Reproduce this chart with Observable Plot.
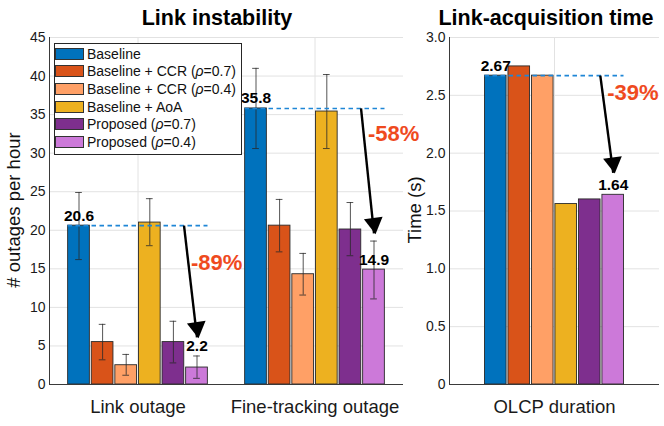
<!DOCTYPE html>
<html>
<head>
<meta charset="utf-8">
<script src="https://cdn.jsdelivr.net/npm/d3@7"></script>
<script src="https://cdn.jsdelivr.net/npm/@observablehq/plot@0.6"></script>
<style>
  body { margin: 0; background: #fff; }
  #wrap { position: relative; width: 664px; height: 426px; background: #fff; font-family: "Liberation Sans", Arial, Helvetica, sans-serif; color: #111; overflow: hidden; }
  .abs { position: absolute; }
  .title { position: absolute; transform: translateX(-50%); white-space: nowrap; font-weight: bold; font-size: 21.5px; line-height: 21.5px; color: #000; }
  .ylab { position: absolute; transform: translate(-50%, -50%) rotate(-90deg); white-space: nowrap; font-size: 18.5px; line-height: 1; color: #111; }
  #legend { position: absolute; left: 54px; top: 43px; width: 188px; height: 112px; border: 1px solid #262626; box-sizing: border-box; background: #fff; padding-top: 1px; }
  .row { display: flex; align-items: center; height: 17.6px; font-size: 14px; color: #111; white-space: nowrap; }
  .sw { width: 29px; height: 12px; border: 1px solid #333; box-sizing: border-box; margin-left: 0px; margin-right: 3px; }
</style>
</head>
<body>
<div id="wrap">
  <div id="left" class="abs" style="left:0;top:0"></div>
  <div id="right" class="abs" style="left:404px;top:0"></div>
  <div class="title" style="left:217px;top:8px">Link instability</div>
  <div class="title" style="left:546px;top:8px">Link-acquisition time</div>
  <div class="ylab" style="left:14px;top:210px"># outages per hour</div>
  <div class="ylab" style="left:415px;top:210px">Time (s)</div>
  <div id="legend"></div>
</div>
<script>
// ---- data ----
const series = ["Baseline", "Baseline + CCR (ρ=0.7)", "Baseline + CCR (ρ=0.4)", "Baseline + AoA", "Proposed (ρ=0.7)", "Proposed (ρ=0.4)"];
const colors = ["#0072BD", "#D95319", "#FFA066", "#EDB120", "#7E2F8E", "#CC79D9"];

const instabilityGroups = ["Link outage", "Fine-tracking outage"];
const linkOutage   = [20.6, 5.5, 2.5, 21.0, 5.5, 2.2];
const linkOutageLo = [16.2, 3.2, 1.2, 18.0, 2.8, 0.8];
const linkOutageHi = [24.9, 7.8, 3.9, 24.1, 8.2, 3.7];
const fineTracking   = [35.8, 20.6, 14.3, 35.4, 20.1, 14.9];
const fineTrackingLo = [30.6, 17.2, 11.6, 30.6, 16.7, 11.1];
const fineTrackingHi = [41.0, 24.0, 17.0, 40.2, 23.6, 18.6];
const instabilityTicks = [0, 5, 10, 15, 20, 25, 30, 35, 40, 45];

const acquisitionGroups = ["OLCP duration"];
const olcpDuration = [2.67, 2.75, 2.67, 1.56, 1.60, 1.64];
const acquisitionTicks = [0, 0.5, 1.0, 1.5, 2.0, 2.5, 3.0];

// annotations
const baselineRefLeft = [
  {group: "Link outage", y: 20.6},
  {group: "Fine-tracking outage", y: 35.8}
];
const baselineRefRight = [{group: "OLCP duration", y: 2.67}];
const valueLabelsLeft = [
  {group: "Link outage", series: series[0], y: 20.6, text: "20.6"},
  {group: "Link outage", series: series[5], y: 3.7, text: "2.2"},
  {group: "Fine-tracking outage", series: series[0], y: 35.8, text: "35.8"},
  {group: "Fine-tracking outage", series: series[5], y: 14.9, text: "14.9"}
];
const valueLabelsRight = [
  {group: "OLCP duration", series: series[0], y: 2.67, text: "2.67"},
  {group: "OLCP duration", series: series[5], y: 1.64, text: "1.64"}
];
const arrowsLeft = [
  {group: "Link outage", from: series[4], to: series[5], y1: 20.6, y2: 6.1},
  {group: "Fine-tracking outage", from: series[4], to: series[5], y1: 35.8, y2: 19.6}
];
const arrowsRight = [{group: "OLCP duration", from: series[4], to: series[5], y1: 2.67, y2: 1.83}];
const percentLeft = [
  {group: "Link outage", series: series[5], y: 15.8, text: "-89%"},
  {group: "Fine-tracking outage", series: series[5], y: 32.5, text: "-58%"}
];
const percentRight = [{group: "OLCP duration", series: series[5], y: 2.52, text: "-39%"}];

// ---- tables ----
const leftBars = instabilityGroups.flatMap((g, gi) => series.map((s, i) => ({
  group: g, series: s,
  value: [linkOutage, fineTracking][gi][i],
  lo: [linkOutageLo, fineTrackingLo][gi][i],
  hi: [linkOutageHi, fineTrackingHi][gi][i]
})));
const rightBars = series.map((s, i) => ({group: acquisitionGroups[0], series: s, value: olcpDuration[i]}));

const FONT = '"Liberation Sans", Arial, Helvetica, sans-serif';
const gridColor = "#e2e2e2";
const axisColor = "#3a3a3a";

// start the arrow shaft part-way between the two bar centres
function shiftStart(index, scales, values, dimensions, context, next) {
  const x1 = values.x1, x2 = values.x2;
  if (x1 && x2) {
    values = {...values, x1: Float64Array.from(x1, (v, i) => v + 0.45 * (x2[i] - v))};
  }
  return next(index, scales, values, dimensions, context);
}

function panel({groups, bars, yDomain, ticks, tickFormat, width, marginLeft, marginRight, paddingOuter, refs, refInset, labels, arrows, percents, errors}) {
  const marks = [
    Plot.gridY(ticks, {stroke: gridColor, strokeOpacity: 1, strokeWidth: 1}),
    Plot.gridFx({stroke: gridColor, strokeOpacity: 1, strokeWidth: 1}),
    Plot.axisY(ticks, {tickSize: 0, tickPadding: 4, fontSize: 14, tickFormat, label: null}),
    Plot.axisFx({anchor: "bottom", tickSize: 0, tickPadding: 15, fontSize: 18.5, label: null}),
    Plot.barY(bars, {fx: "group", x: "series", y: "value", fill: "series", stroke: "#2a2a2a", strokeWidth: 0.9})
  ];
  if (errors) {
    marks.push(
      Plot.ruleX(bars, {fx: "group", x: "series", y1: "lo", y2: "hi", stroke: "#2a2a2a", strokeWidth: 0.8}),
      Plot.tickY(bars, {fx: "group", x: "series", y: "lo", stroke: "#2a2a2a", strokeWidth: 0.8, insetLeft: 7.5, insetRight: 7.5}),
      Plot.tickY(bars, {fx: "group", x: "series", y: "hi", stroke: "#2a2a2a", strokeWidth: 0.8, insetLeft: 7.5, insetRight: 7.5})
    );
  }
  marks.push(
    Plot.ruleY([0], {stroke: axisColor, strokeWidth: 1}),
    Plot.frame({anchor: "left", facetAnchor: "left", stroke: axisColor, strokeWidth: 1}),
    Plot.tickY(refs, {fx: "group", y: "y", stroke: "#1f86d6", strokeWidth: 1.6, strokeDasharray: "4.5,3.5", insetLeft: refInset, insetRight: refInset}),
    Plot.link(arrows, {fx: "group", x1: "from", x2: "to", y1: "y1", y2: "y2", stroke: "#000", strokeWidth: 2.4, render: shiftStart}),
    Plot.dot(arrows, {fx: "group", x: "to", y: "y2", symbol: "triangle", r: 7, rotate: 172, dy: -10, fill: "#000", stroke: "none"}),
    Plot.text(labels, {fx: "group", x: "series", y: "y", text: "text", dy: -10, fontSize: 15.5, fontWeight: "bold", fill: "#000"}),
    Plot.text(percents, {fx: "group", x: "series", y: "y", text: "text", textAnchor: "start", dx: -6, fontSize: 22, fontWeight: "bold", fill: "#ef4a1e"})
  );
  return Plot.plot({
    width, height: 426,
    marginLeft, marginRight, marginTop: 37, marginBottom: 42,
    style: {fontFamily: FONT, fontSize: "14px", color: "#1a1a1a", background: "transparent", overflow: "visible"},
    fx: {domain: groups, padding: 0, label: null, axis: null},
    x: {domain: series, paddingInner: 0.08, paddingOuter, round: false, axis: null},
    y: {domain: yDomain, axis: null},
    color: {domain: series, range: colors},
    marks
  });
}

document.getElementById("left").append(panel({
  groups: instabilityGroups, bars: leftBars, yDomain: [0, 45], ticks: instabilityTicks,
  tickFormat: d => String(d), width: 410, marginLeft: 48, marginRight: 7, paddingOuter: 0.79,
  refs: baselineRefLeft, refInset: 18.5, labels: valueLabelsLeft, arrows: arrowsLeft, percents: percentLeft, errors: true
}));
document.getElementById("right").append(panel({
  groups: acquisitionGroups, bars: rightBars, yDomain: [0, 3], ticks: acquisitionTicks,
  tickFormat: d => d === 0 ? "0" : d.toFixed(1), width: 260, marginLeft: 45, marginRight: 5, paddingOuter: 1.51,
  refs: baselineRefRight, refInset: 35.5, labels: valueLabelsRight, arrows: arrowsRight, percents: percentRight, errors: false
}));

// legend
const legend = document.getElementById("legend");
series.forEach((s, i) => {
  const row = document.createElement("div");
  row.className = "row";
  const sw = document.createElement("div");
  sw.className = "sw";
  sw.style.background = colors[i];
  const label = document.createElement("span");
  label.innerHTML = s.replace("ρ", "<i>ρ</i>");
  row.append(sw, label);
  legend.append(row);
});
</script>
</body>
</html>
